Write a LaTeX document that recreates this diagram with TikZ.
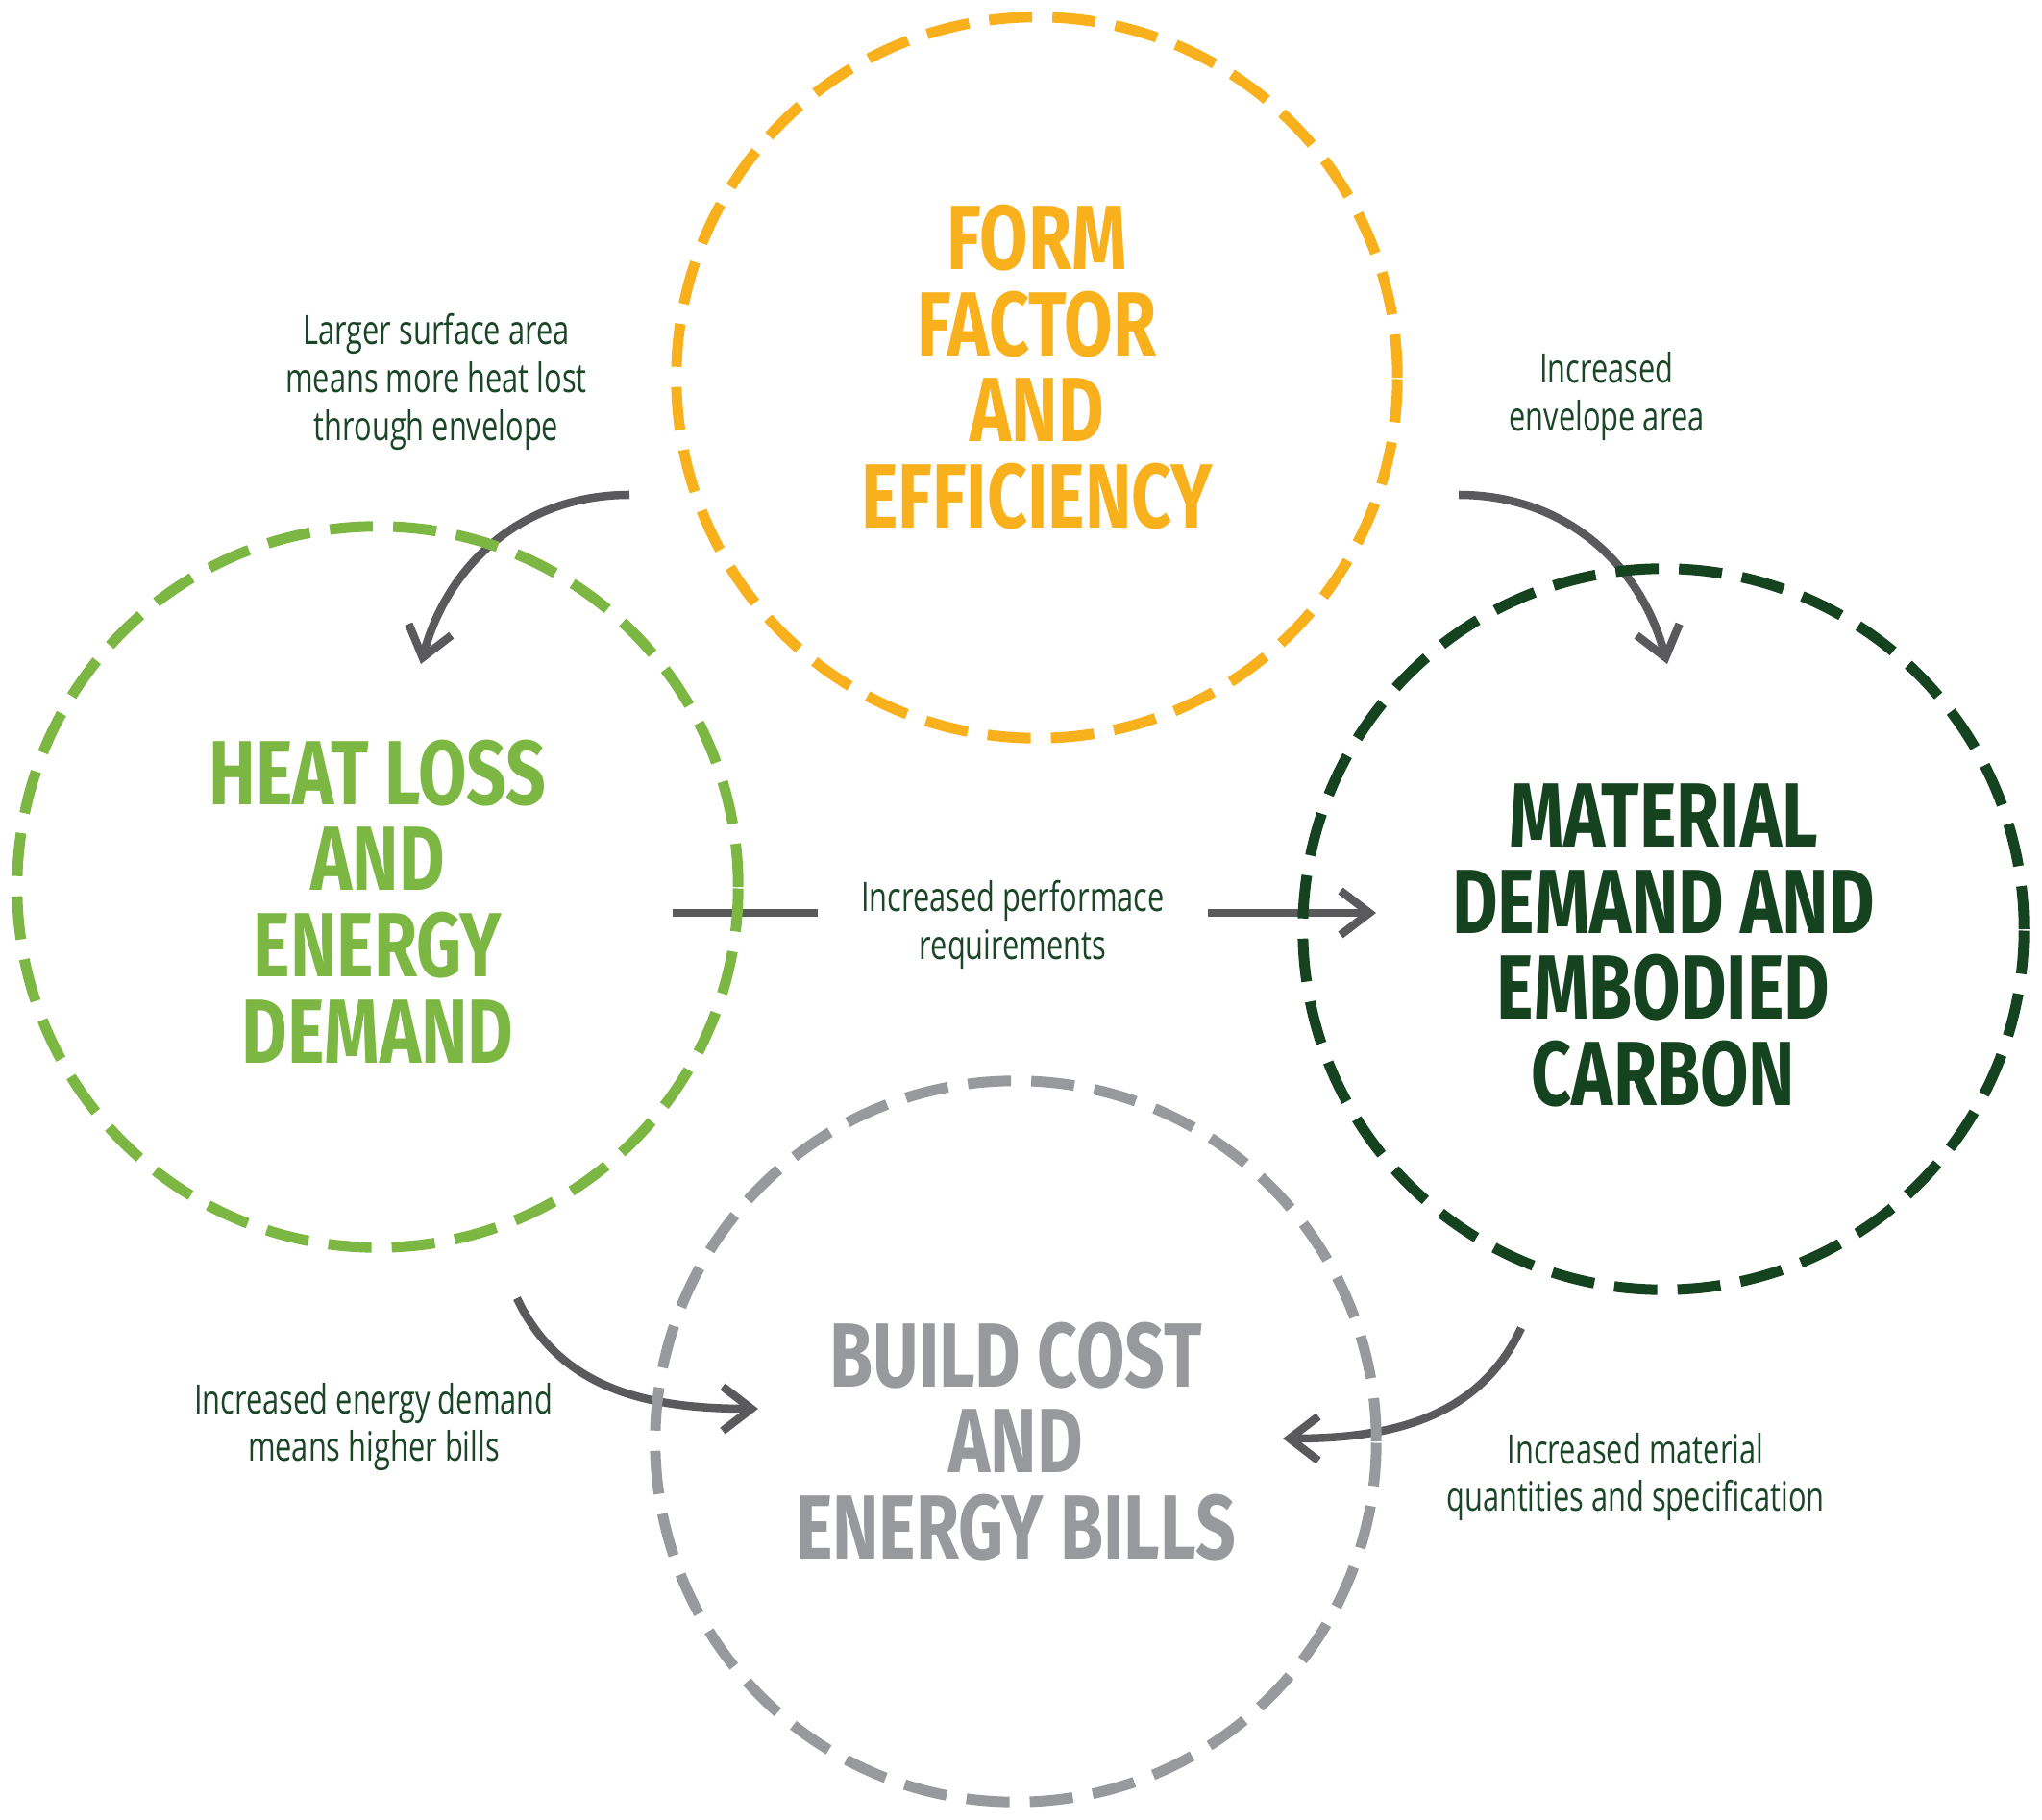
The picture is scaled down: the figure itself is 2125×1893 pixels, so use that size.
\documentclass[tikz,border=0pt]{standalone}
\usepackage{fontspec}
\usetikzlibrary{arrows.meta, positioning}
\newfontfamily\headfont{Fira Sans}[FakeStretch=0.77]
\newfontfamily\notefont{Open Sans}[FakeStretch=0.73]
\definecolor{formorange}{HTML}{F8B01C}
\definecolor{heatgreen}{HTML}{7DB743}
\definecolor{carbongreen}{HTML}{16431F}
\definecolor{costgrey}{HTML}{98999C}
\definecolor{arrowgrey}{HTML}{5A5A5C}
\definecolor{notegreen}{HTML}{1A4526}
\tikzset{
    topic/.style={draw, circle, dash pattern=on 0.45cm off 0.21cm, line width=0.11cm, minimum size=7.5cm, inner sep=0pt},
    heading/.style={align=center, font=\headfont\bfseries\fontsize{27}{25.5}\selectfont},
    note/.style={align=center, text=notegreen, font=\notefont\fontsize{12}{14.2}\selectfont},
    link/.style={draw=arrowgrey, line width=0.085cm, -{Straight Barb[length=0.3cm, width=0.46cm]}},
    plain/.style={draw=arrowgrey, line width=0.085cm}
}

\begin{document}
\begin{tikzpicture}[x=0.01cm, y=0.01cm]
    \useasboundingbox (0,0) rectangle (2125,1893);

    % labels
    \node [note] (surf) at (454,1496) {Larger surface area\\means more heat lost\\through envelope};
    \node [note] (env) at (1672,1480) {Increased\\envelope area};
    \node [note, inner xsep=0.45cm] (perf) at (1054,931) {Increased performace\\requirements};
    \node [note] (bills) at (389,408) {Increased energy demand\\means higher bills};
    \node [note] (spec) at (1702,356) {Increased material\\quantities and specification};

    % arrow ends
    \coordinate (a1s) at (655,1378);
    \coordinate (a1e) at (438,1202);
    \coordinate (a2s) at (1518,1378);
    \coordinate (a2e) at (1735,1202);
    \coordinate (a3s) at (538,542);
    \coordinate (a3e) at (789,427);
    \coordinate (a4s) at (1583,511);
    \coordinate (a4e) at (1335,396);
    \coordinate (hs) at (700,943);
    \coordinate (he) at (1432,943);

    \draw [link] (a1s) to [out=180, in=75] (a1e);
    \draw [link] (a2s) to [out=0, in=105] (a2e);
    \draw [link] (a3s) to [out=-65, in=180] (a3e);
    \draw [link] (a4s) to [out=-115, in=0] (a4e);
    \draw [plain] (hs) -- (hs -| perf.west);
    \draw [link] (hs -| perf.east) -- (he);

    % circles
    \node [topic, draw=formorange] (form) at (1079,1500) {};
    \node [topic, draw=heatgreen] (heat) at (393,970) {};
    \node [topic, draw=carbongreen] (material) at (1731,926) {};
    \node [topic, draw=costgrey] (cost) at (1057,393) {};

    \node [heading, text=formorange, yshift=0.11cm] (formhead) at (form) {FORM\\FACTOR\\AND\\EFFICIENCY};
    \node [heading, text=heatgreen, yshift=-0.15cm] (heathead) at (heat) {HEAT LOSS\\AND\\ENERGY\\DEMAND};
    \node [heading, text=carbongreen, yshift=-0.17cm] (materialhead) at (material) {MATERIAL\\DEMAND AND\\EMBODIED\\CARBON};
    \node [heading, text=costgrey] (costhead) at (cost) {BUILD COST\\AND\\ENERGY BILLS};
\end{tikzpicture}
\end{document}
